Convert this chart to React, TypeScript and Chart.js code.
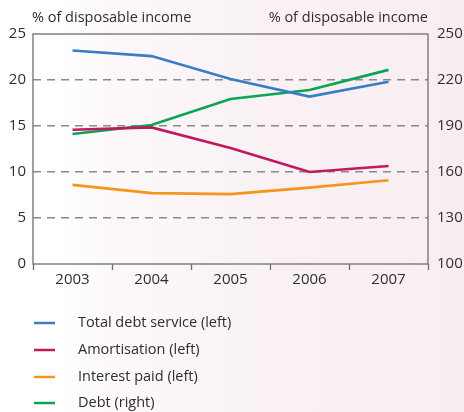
import React, { useEffect, useRef } from "react";
import { Chart, registerables } from "chart.js";

Chart.register(...registerables);

const years = ["2003", "2004", "2005", "2006", "2007"];
const totalDebtService = [23.2, 22.6, 20.1, 18.2, 19.8];
const amortisation = [14.6, 14.85, 12.6, 10.0, 10.65];
const interestPaid = [8.6, 7.7, 7.6, 8.3, 9.1];
const debt = [184.8, 190.7, 207.6, 213.5, 226.6];

const leftTitle = "% of disposable income";
const rightTitle = "% of disposable income";

const seriesNames = [
  "Total debt service (left)",
  "Amortisation (left)",
  "Interest paid (left)",
  "Debt (right)",
];
const seriesColors = ["#3a7cc6", "#c2185f", "#f7941d", "#0aa64f"];

const FONT = "'Open Sans', 'Noto Sans', sans-serif";
const TEXT = "#2e2e2e";

const decorPlugin = {
  id: "decor",
  afterDraw(chart: any) {
    const { ctx, chartArea } = chart;
    const { left, right, top, bottom } = chartArea;
    ctx.save();
    // frame
    ctx.strokeStyle = "#6f6f6f";
    ctx.lineWidth = 1.3;
    ctx.setLineDash([]);
    ctx.strokeRect(left, top, right - left, bottom - top);
    // axis titles
    ctx.fillStyle = TEXT;
    ctx.font = `14.5px ${FONT}`;
    ctx.textBaseline = "middle";
    ctx.textAlign = "left";
    ctx.fillText(leftTitle, left - 1, 18);
    ctx.textAlign = "right";
    ctx.fillText(rightTitle, right, 18);
    // legend
    ctx.font = `14.5px ${FONT}`;
    ctx.textAlign = "left";
    const rows = [323, 350, 377, 403];
    seriesNames.forEach((name, i) => {
      const y = rows[i];
      ctx.strokeStyle = seriesColors[i];
      ctx.lineWidth = 2.5;
      ctx.beginPath();
      ctx.moveTo(34, y);
      ctx.lineTo(55, y);
      ctx.stroke();
      ctx.fillStyle = TEXT;
      ctx.fillText(name, 78, y);
    });
    ctx.restore();
  },
};

export default function App() {
  const ref = useRef<HTMLCanvasElement>(null);
  useEffect(() => {
    const canvas = ref.current;
    if (!canvas) return;
    const mk = (label: string, data: number[], color: string, axis: string) => ({
      label,
      data,
      borderColor: color,
      backgroundColor: color,
      borderWidth: 2.6,
      pointRadius: 0,
      tension: 0,
      yAxisID: axis,
    });
    const chart = new Chart(canvas, {
      type: "line",
      data: {
        labels: years,
        datasets: [
          mk(seriesNames[0], totalDebtService, seriesColors[0], "y"),
          mk(seriesNames[1], amortisation, seriesColors[1], "y"),
          mk(seriesNames[2], interestPaid, seriesColors[2], "y"),
          mk(seriesNames[3], debt, seriesColors[3], "y1"),
        ],
      },
      options: {
        animation: false,
        responsive: false,
        maintainAspectRatio: false,
        layout: { padding: { top: 34, left: 0, right: 0, bottom: 0 } },
        plugins: { legend: { display: false }, tooltip: { enabled: false } },
        scales: {
          x: {
            offset: true,
            grid: {
              display: true,
              offset: true,
              drawOnChartArea: false,
              drawTicks: true,
              tickLength: 6,
              tickColor: "#6f6f6f",
              tickWidth: 1.3,
              color: "#6f6f6f",
            },
            border: { display: false },
            ticks: { font: { family: FONT, size: 15 }, color: TEXT, padding: 1, maxRotation: 0 },
            afterFit(scale: any) {
              scale.height = 148;
            },
          },
          y: {
            position: "left",
            min: 0,
            max: 25,
            ticks: { stepSize: 5, font: { family: FONT, size: 15 }, color: TEXT, padding: 7 },
            grid: {
              drawTicks: false,
              lineWidth: 1.5,
              color: (ctx: any) =>
                ctx.tick && (ctx.tick.value === 0 || ctx.tick.value === 25) ? "rgba(0,0,0,0)" : "#8a8a8a",
              borderDash: [8, 6],
            },
            border: { display: false, dash: [8, 6] },
            afterFit(scale: any) {
              scale.width = 33;
            },
          },
          y1: {
            position: "right",
            min: 100,
            max: 250,
            ticks: { stepSize: 30, font: { family: FONT, size: 15 }, color: TEXT, padding: 9 },
            grid: { display: false, drawOnChartArea: false, drawTicks: false },
            border: { display: false },
            afterFit(scale: any) {
              scale.width = 36;
            },
          },
        },
      } as any,
      plugins: [decorPlugin],
    });
    return () => chart.destroy();
  }, []);
  return (
    <div
      style={{
        position: "fixed",
        left: 0,
        top: 0,
        width: 464,
        height: 412,
        background:
          "linear-gradient(to right, #ffffff 0%, #ffffff 13%, #fcf8fa 24%, #f9f1f4 60%, #f8eef2 100%)",
      }}
    >
      <canvas ref={ref} width={464} height={412} style={{ display: "block", width: 464, height: 412 }} />
    </div>
  );
}
